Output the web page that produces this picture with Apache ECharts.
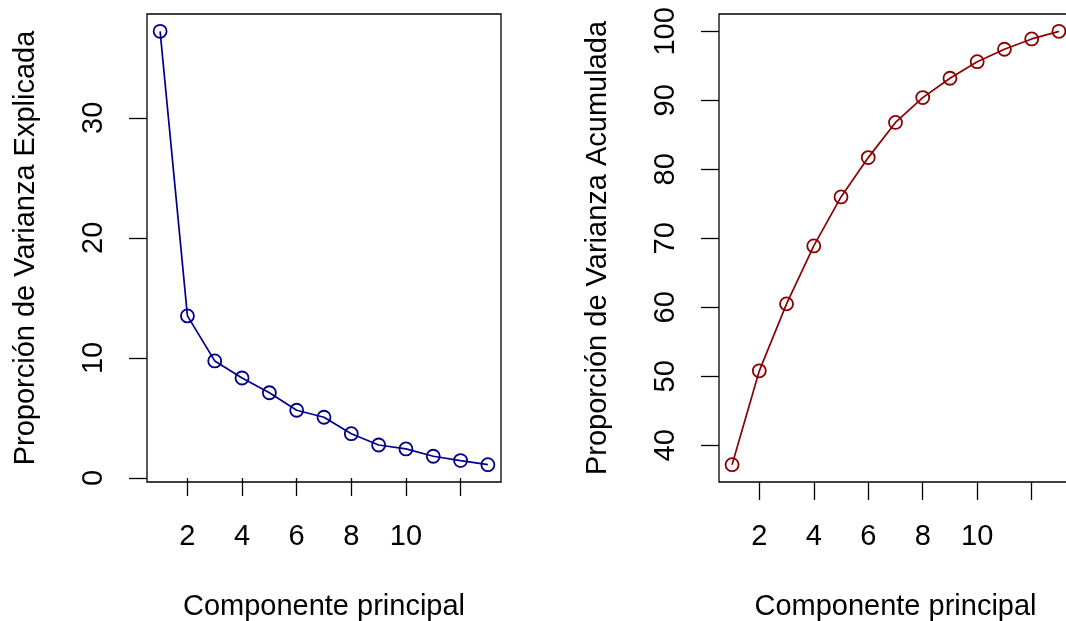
<!DOCTYPE html>
<html>
<head>
<meta charset="utf-8">
<title>Varianza explicada</title>
<script src="https://cdn.jsdelivr.net/npm/echarts@6/dist/echarts.min.js"></script>
<style>
  html, body { margin: 0; padding: 0; background: #fff; }
  #chart { width: 1066px; height: 621px; }
</style>
</head>
<body>
<div id="chart"></div>
<script>
// componentes principales 1..13
const componentes = [1, 2, 3, 4, 5, 6, 7, 8, 9, 10, 11, 12, 13]
// proporcion de varianza explicada (%)
const varExplicada = [37.2, 13.5, 9.75, 8.33, 7.1, 5.64, 5.06, 3.69, 2.75, 2.42, 1.81, 1.45, 1.11]
// proporcion de varianza acumulada (%)
const varAcumulada = [37.2, 50.8, 60.5, 68.9, 76.0, 81.7, 86.8, 90.4, 93.2, 95.6, 97.4, 98.9, 100]

const xTicks = [2, 4, 6, 8, 10, 12]
const xLabels = [2, 4, 6, 8, 10]
const yTicksIzq = [0, 10, 20, 30]
const yTicksDer = [40, 50, 60, 70, 80, 90, 100]

const fuente = 'Liberation Sans, Arial, Helvetica, sans-serif'
const tam = 29

// rango como en R: extiende un 4% a cada lado
function rango(vals) {
  const lo = Math.min(...vals)
  const hi = Math.max(...vals)
  const d = (hi - lo) * 0.04
  return { min: lo - d, max: hi + d }
}

function ejeX(idx) {
  const r = rango(componentes)
  return {
    type: 'value',
    gridIndex: idx,
    min: r.min,
    max: r.max,
    name: 'Componente principal',
    nameLocation: 'middle',
    nameGap: 110,
    nameTextStyle: { color: '#000', fontSize: tam, fontFamily: fuente },
    axisLine: { show: false },
    splitLine: { show: false },
    axisTick: {
      show: true,
      length: 18,
      customValues: xTicks,
      lineStyle: { color: '#000', width: 1.3 }
    },
    axisLabel: {
      customValues: xLabels,
      margin: 40,
      color: '#000',
      fontSize: tam,
      fontFamily: fuente
    }
  }
}

function ejeY(idx, datos, ticks, nombre) {
  const r = rango(datos)
  return {
    type: 'value',
    gridIndex: idx,
    min: r.min,
    max: r.max,
    name: nombre,
    nameLocation: 'middle',
    nameGap: 107,
    nameTextStyle: { color: '#000', fontSize: tam, fontFamily: fuente },
    axisLine: { show: false },
    splitLine: { show: false },
    axisTick: {
      show: true,
      length: 18,
      customValues: ticks,
      lineStyle: { color: '#000', width: 1.3 }
    },
    axisLabel: {
      customValues: ticks,
      rotate: 90,
      margin: 39,
      color: '#000',
      fontSize: tam,
      fontFamily: fuente
    }
  }
}

function serie(idx, datos, color) {
  return {
    type: 'line',
    xAxisIndex: idx,
    yAxisIndex: idx,
    data: componentes.map((c, i) => [c, datos[i]]),
    symbol: 'circle',
    symbolSize: 13,
    showSymbol: true,
    lineStyle: { color: color, width: 1.7 },
    itemStyle: { color: 'rgba(0,0,0,0)', borderColor: color, borderWidth: 1.8 },
    emphasis: { disabled: true },
    clip: false
  }
}

const chart = echarts.init(document.getElementById('chart'))
chart.setOption({
  animation: false,
  backgroundColor: '#fff',
  grid: [
    { left: 147, top: 14, width: 354, height: 468, outerBoundsMode: 'none', containLabel: false, show: true, borderColor: '#000', borderWidth: 1.3, backgroundColor: 'transparent' },
    { left: 719, top: 14, width: 353, height: 468, outerBoundsMode: 'none', containLabel: false, show: true, borderColor: '#000', borderWidth: 1.3, backgroundColor: 'transparent' }
  ],
  xAxis: [ejeX(0), ejeX(1)],
  yAxis: [
    ejeY(0, varExplicada, yTicksIzq, 'Proporción de Varianza Explicada'),
    ejeY(1, varAcumulada, yTicksDer, 'Proporción de Varianza Acumulada')
  ],
  series: [
    serie(0, varExplicada, '#00008B'),
    serie(1, varAcumulada, '#8B0000')
  ]
})
</script>
</body>
</html>
